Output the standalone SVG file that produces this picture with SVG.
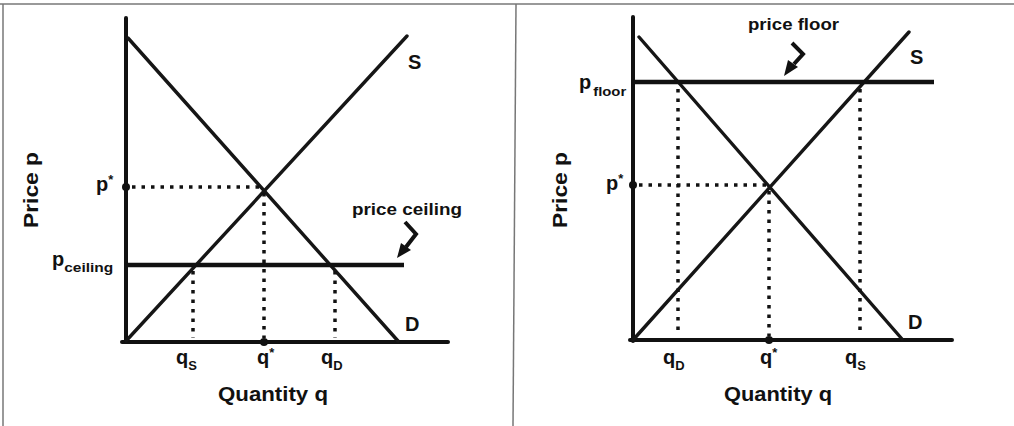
<svg xmlns="http://www.w3.org/2000/svg" width="1014" height="426" viewBox="0 0 1014 426">
<style>
text{font-family:"Liberation Sans",Arial,sans-serif;font-weight:bold;fill:#111}
.ax{stroke:#111;stroke-width:4;stroke-linecap:round;fill:none}
.cv{stroke:#161616;stroke-width:3.4;stroke-linecap:round;fill:none}
.ctl{stroke:#111;stroke-width:4.5;fill:none}
.dot{stroke:#111;stroke-width:3.5;stroke-dasharray:3.5 6;fill:none}
.fr{stroke:#777;stroke-width:1.5;fill:none}
.lbl{font-size:20px}
.big{font-size:21px}
.sub{font-size:13px}
.note{font-size:17px}
.chev{stroke:#111;stroke-width:4;fill:none;stroke-linejoin:miter}
</style>
<rect width="1014" height="426" fill="#fff"/>
<g id="frame">
<line class="fr" x1="0" y1="4" x2="1014" y2="4"/>
<line class="fr" x1="3" y1="4" x2="3" y2="426" stroke="#bbb"/>
<line class="fr" x1="516" y1="4" x2="513" y2="426" stroke="#999"/>
</g>
<g id="left-chart">
<g id="left-axes">
<line class="ax" x1="126" y1="18" x2="126" y2="342"/>
<line class="ax" x1="122" y1="342" x2="448" y2="342"/>
</g>
<g id="left-curves">
<line class="cv" x1="128" y1="38" x2="398" y2="341"/>
<line class="cv" x1="126" y1="341" x2="407" y2="36"/>
<line class="ctl" x1="126" y1="265" x2="404" y2="265"/>
</g>
<g id="left-guides">
<line class="dot" x1="132" y1="187" x2="262" y2="187"/>
<line class="dot" x1="264" y1="193" x2="264" y2="338"/>
<line class="dot" x1="193" y1="271" x2="193" y2="338"/>
<line class="dot" x1="335" y1="271" x2="335" y2="338"/>
<circle cx="126" cy="187" r="4" fill="#111"/>
<circle cx="264" cy="342" r="4" fill="#111"/>
</g>
<g id="left-arrow">
<path class="chev" d="M405,222 L416,234 L406,247"/>
<polygon points="397,258 401,243 411,250" fill="#111"/>
</g>
<g id="left-labels">
<text class="lbl" x="408" y="69">S</text>
<text class="lbl" x="405" y="331">D</text>
<text class="note" x="352" y="215" textLength="110" lengthAdjust="spacingAndGlyphs">price ceiling</text>
<text class="lbl" x="96" y="191">p<tspan class="sub" dy="-7">*</tspan></text>
<text class="lbl" x="52" y="266">p<tspan class="sub" dy="6" textLength="49" lengthAdjust="spacingAndGlyphs">ceiling</tspan></text>
<text class="lbl" x="176" y="364">q<tspan class="sub" dy="6">S</tspan></text>
<text class="lbl" x="257" y="364">q<tspan class="sub" dy="-7">*</tspan></text>
<text class="lbl" x="321" y="364">q<tspan class="sub" dy="6">D</tspan></text>
<text class="big" x="218" y="401" textLength="110" lengthAdjust="spacingAndGlyphs">Quantity q</text>
<text class="big" transform="translate(38,228) rotate(-90)" textLength="76" lengthAdjust="spacingAndGlyphs">Price p</text>
</g>
</g>
<g id="right-chart">
<g id="right-axes">
<line class="ax" x1="633" y1="17" x2="633" y2="341"/>
<line class="ax" x1="630" y1="340" x2="952" y2="340"/>
</g>
<g id="right-curves">
<line class="cv" x1="639" y1="37" x2="902" y2="339"/>
<line class="cv" x1="633" y1="340" x2="909" y2="32"/>
<line class="ctl" x1="633" y1="82" x2="934" y2="82"/>
</g>
<g id="right-guides">
<line class="dot" x1="639" y1="185" x2="766" y2="185"/>
<line class="dot" x1="769" y1="191" x2="769" y2="336"/>
<line class="dot" x1="678" y1="89" x2="678" y2="336"/>
<line class="dot" x1="860" y1="89" x2="860" y2="336"/>
<circle cx="633" cy="185" r="4" fill="#111"/>
<circle cx="769" cy="340" r="4" fill="#111"/>
</g>
<g id="right-arrow">
<path class="chev" d="M792,43 L803,54 L794,64"/>
<polygon points="784,76 788,60 798,67" fill="#111"/>
</g>
<g id="right-labels">
<text class="lbl" x="910" y="64">S</text>
<text class="lbl" x="908" y="329">D</text>
<text class="note" x="748" y="30" textLength="91" lengthAdjust="spacingAndGlyphs">price floor</text>
<text class="lbl" x="606" y="190">p<tspan class="sub" dy="-7">*</tspan></text>
<text class="lbl" x="579" y="89">p<tspan class="sub" dx="2" dy="7" textLength="33" lengthAdjust="spacingAndGlyphs">floor</tspan></text>
<text class="lbl" x="663" y="364">q<tspan class="sub" dy="6">D</tspan></text>
<text class="lbl" x="760" y="364">q<tspan class="sub" dy="-7">*</tspan></text>
<text class="lbl" x="845" y="364">q<tspan class="sub" dy="6">S</tspan></text>
<text class="big" x="724" y="401" textLength="108" lengthAdjust="spacingAndGlyphs">Quantity q</text>
<text class="big" transform="translate(567,228) rotate(-90)" textLength="76" lengthAdjust="spacingAndGlyphs">Price p</text>
</g>
</g>
</svg>
